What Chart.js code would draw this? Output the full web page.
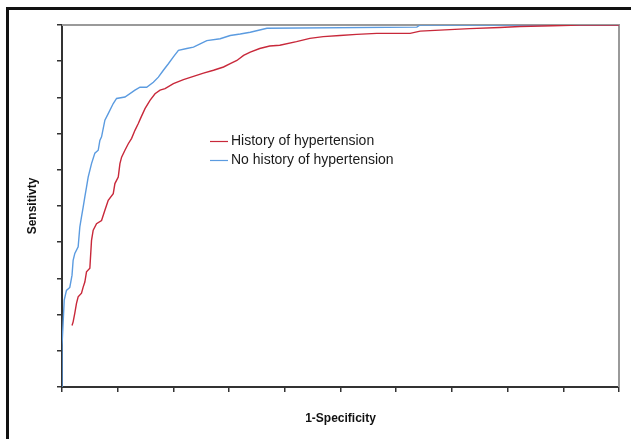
<!DOCTYPE html>
<html>
<head>
<meta charset="utf-8">
<script src="https://cdn.jsdelivr.net/npm/chart.js@4/dist/chart.umd.min.js"></script>
<style>
  html, body { margin: 0; padding: 0; background: #fff; overflow: hidden; }
  #frame { position: absolute; left: 6px; top: 7px; width: 660px; height: 470px; border: 3px solid #111; }
  #wrap { position: absolute; left: 0; top: 0; width: 631px; height: 439px; }
</style>
</head>
<body>
<div id="frame"></div>
<div id="wrap"><canvas id="chart1"></canvas></div>
<script>
// series labels (legend)
var seriesLabels = ['History of hypertension', 'No history of hypertension'];
var axisTitles = { x: '1-Specificity', y: 'Sensitivty' };

// History of hypertension (red): 1-specificity / sensitivity
var fprHistory = [0.018, 0.020, 0.023, 0.026, 0.029, 0.035, 0.038, 0.041, 0.044, 0.050,
  0.053, 0.056, 0.062, 0.071, 0.077, 0.083, 0.092, 0.095, 0.101, 0.104,
  0.107, 0.113, 0.119, 0.125, 0.131, 0.137, 0.141, 0.149, 0.158, 0.167,
  0.176, 0.185, 0.200, 0.218, 0.236, 0.254, 0.272, 0.290, 0.302, 0.314,
  0.326, 0.338, 0.355, 0.373, 0.391, 0.421, 0.445, 0.469, 0.499, 0.529,
  0.565, 0.625, 0.643, 0.732, 0.786, 0.822, 0.881, 0.930, 1.0];
var sensHistory = [0.170, 0.180, 0.204, 0.231, 0.249, 0.259, 0.276, 0.290, 0.318, 0.328,
  0.405, 0.433, 0.451, 0.460, 0.488, 0.516, 0.534, 0.562, 0.580, 0.617,
  0.635, 0.654, 0.672, 0.687, 0.709, 0.728, 0.742, 0.769, 0.792, 0.810,
  0.820, 0.824, 0.838, 0.849, 0.858, 0.867, 0.875, 0.884, 0.893, 0.902,
  0.916, 0.925, 0.935, 0.942, 0.944, 0.954, 0.963, 0.968, 0.971, 0.974,
  0.977, 0.977, 0.983, 0.990, 0.993, 0.996, 0.998, 1.0, 1.0];

// No history of hypertension (blue)
var fprNoHistory = [0, 0, 0.002, 0.004, 0.008, 0.014, 0.018, 0.020, 0.023, 0.029,
  0.032, 0.035, 0.038, 0.041, 0.044, 0.047, 0.053, 0.059, 0.065, 0.068,
  0.071, 0.077, 0.083, 0.092, 0.098, 0.113, 0.131, 0.140, 0.152, 0.164,
  0.173, 0.182, 0.191, 0.200, 0.209, 0.224, 0.236, 0.248, 0.260, 0.284,
  0.302, 0.320, 0.338, 0.368, 0.637, 0.643, 1.0];
var sensNoHistory = [0, 0.115, 0.176, 0.240, 0.267, 0.275, 0.309, 0.350, 0.369, 0.387,
  0.442, 0.470, 0.497, 0.525, 0.552, 0.580, 0.617, 0.646, 0.654, 0.681,
  0.691, 0.737, 0.755, 0.783, 0.797, 0.801, 0.820, 0.828, 0.828, 0.842,
  0.856, 0.875, 0.893, 0.912, 0.930, 0.935, 0.939, 0.948, 0.957, 0.962,
  0.971, 0.975, 0.980, 0.991, 0.994, 1.0, 1.0];

var colors = ['#c8283a', '#5b9be0'];

function toPoints(xs, ys) {
  return xs.map(function (x, i) { return { x: x, y: ys[i] }; });
}

// gray top/right plot border (under the curves) + legend inside plot area
var framePlugin = {
  id: 'framePlugin',
  beforeDatasetsDraw: function (chart) {
    var ctx = chart.ctx, a = chart.chartArea;
    ctx.save();
    ctx.strokeStyle = '#9a9a9a';
    ctx.lineWidth = 2;
    ctx.beginPath();
    ctx.moveTo(a.left, a.top);
    ctx.lineTo(a.right, a.top);
    ctx.lineTo(a.right, a.bottom);
    ctx.stroke();
    ctx.restore();
  },
  afterDraw: function (chart) {
    var ctx = chart.ctx;
    ctx.save();
    ctx.font = '14px "Liberation Sans", Arial, sans-serif';
    ctx.textBaseline = 'middle';
    ctx.fillStyle = '#1a1a1a';
    chart.data.datasets.forEach(function (ds, i) {
      var y = 141.5 + i * 19;
      ctx.strokeStyle = ds.borderColor;
      ctx.lineWidth = 1.2;
      ctx.beginPath();
      ctx.moveTo(210, y);
      ctx.lineTo(228, y);
      ctx.stroke();
      ctx.fillText(ds.label, 231, y);
    });
    ctx.restore();
  }
};

var ctx1 = document.getElementById('chart1');
new Chart(ctx1, {
  type: 'line',
  data: {
    datasets: [{
      label: seriesLabels[0],
      data: toPoints(fprHistory, sensHistory),
      borderColor: colors[0],
      borderWidth: 1.4,
      pointRadius: 0,
      tension: 0,
      fill: false
    }, {
      label: seriesLabels[1],
      data: toPoints(fprNoHistory, sensNoHistory),
      borderColor: colors[1],
      borderWidth: 1.4,
      pointRadius: 0,
      tension: 0,
      fill: false
    }]
  },
  options: {
    responsive: true,
    maintainAspectRatio: false,
    animation: false,
    layout: { padding: { left: 0, top: 25, right: 12, bottom: 0 } },
    plugins: { legend: { display: false }, tooltip: { enabled: false } },
    scales: {
      x: {
        type: 'linear',
        min: 0, max: 1,
        ticks: { display: false, stepSize: 0.1 },
        grid: { drawOnChartArea: false, drawTicks: true, tickLength: 5, color: '#333', lineWidth: 1.5 },
        border: { color: '#333', width: 2 },
        title: {
          display: true, text: axisTitles.x, color: '#111',
          font: { family: '"Liberation Sans", Arial, sans-serif', size: 12, weight: 'bold' },
          padding: { top: 4, bottom: 13 }
        },
        afterFit: function (s) { s.height = 52; }
      },
      y: {
        min: 0, max: 1,
        ticks: { display: false, stepSize: 0.1 },
        grid: { drawOnChartArea: false, drawTicks: true, tickLength: 5, color: '#333', lineWidth: 1.5 },
        border: { color: '#333', width: 2 },
        title: {
          display: true, text: axisTitles.y, color: '#111',
          font: { family: '"Liberation Sans", Arial, sans-serif', size: 12, weight: 'bold' },
          padding: { top: 25, bottom: 4 }
        },
        afterFit: function (s) { s.width = 62; }
      }
    }
  },
  plugins: [framePlugin]
});
</script>
</body>
</html>
